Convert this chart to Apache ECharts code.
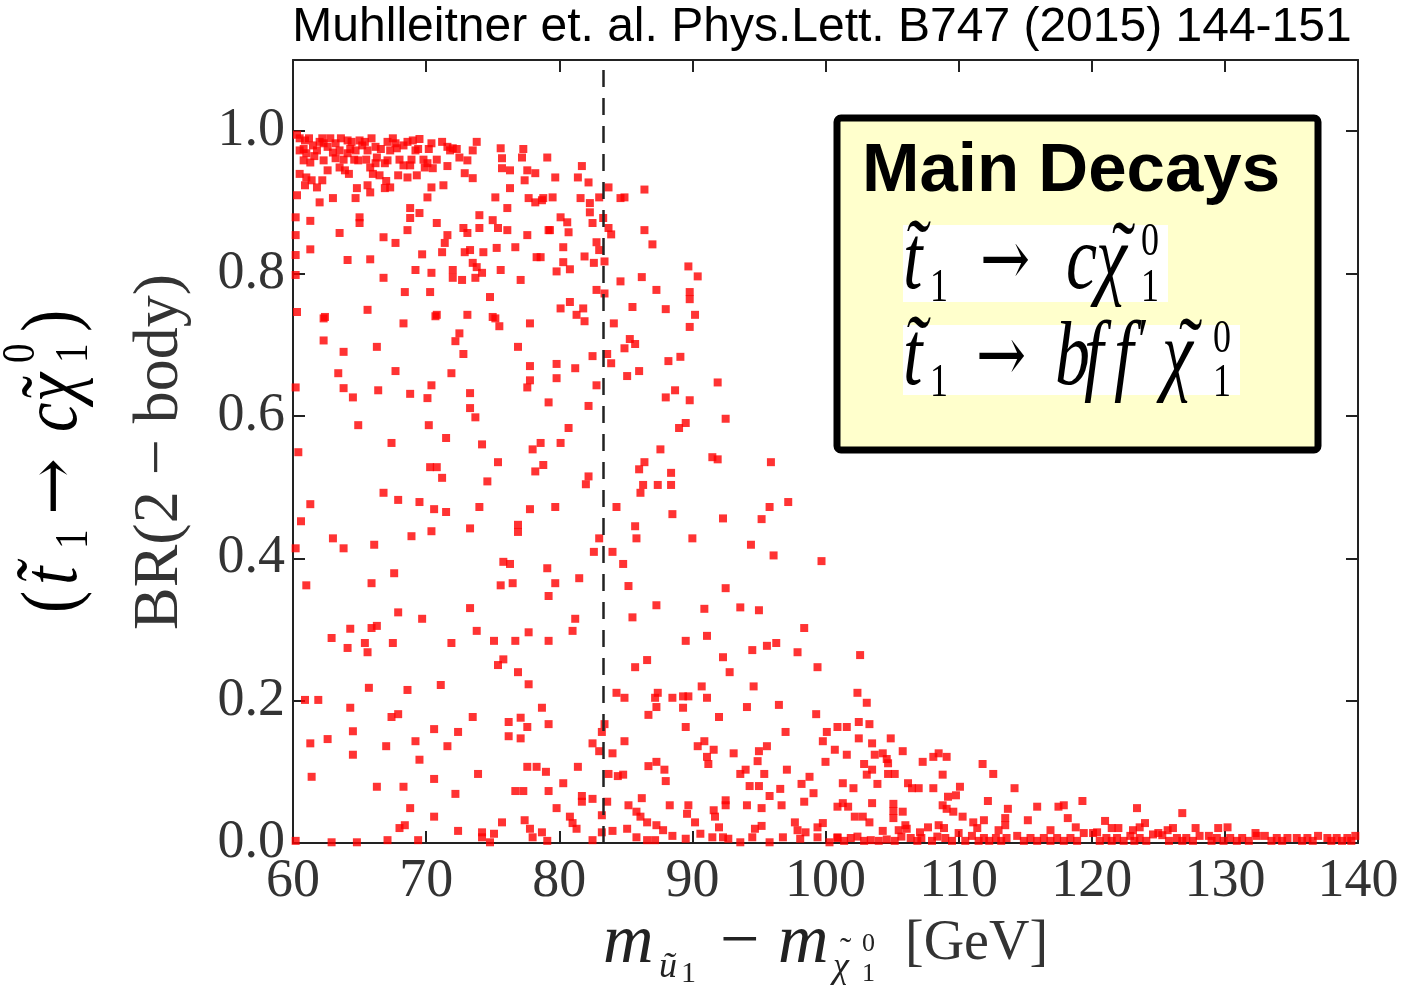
<!DOCTYPE html>
<html>
<head>
<meta charset="utf-8">
<title>BR(2-body) vs mass splitting</title>
<script src="https://cdn.jsdelivr.net/npm/echarts@6/dist/echarts.min.js"></script>
<style>
html, body { margin: 0; padding: 0; background: #fff; }
#main { width: 1407px; height: 987px; }
</style>
</head>
<body>
<div id="main"></div>
<script>
// x: m(t1) - m(chi1) [GeV], y: BR(2-body)
const xMin = 60, xMax = 140, xStep = 10
const yMin = 0, yMax = 1.1, yStep = 0.2
const cutLine = 83.3 // dashed vertical line

// dense band near BR = 1
const topBand = [
  [60.5,0.99],[60.9,0.987],[61.5,0.98],[62.2,0.99],[62.3,0.983],[63.2,0.983],[64.1,0.987],[64.4,0.985],[65.0,0.987],[65.4,0.985],
  [66.2,0.978],[67.1,0.985],[67.7,0.983],[68.6,0.985],[69.0,0.987],[69.5,0.989],[70.4,0.983],[71.6,0.978],[72.0,0.976],[73.8,0.985],
  [75.6,0.976],[77.3,0.975],[79.1,0.963],
  [60.5,0.973],[61.0,0.969],[61.8,0.973],[62.6,0.978],[63.5,0.973],[64.1,0.969],[64.7,0.973],[65.6,0.973],[66.3,0.963],[67.3,0.973],
  [67.8,0.976],[69.2,0.973],[71.8,0.973],[72.5,0.963],[73.1,0.959],[73.5,0.973],[75.7,0.962],[77.2,0.963],
  [60.8,0.959],[61.3,0.956],[62.3,0.959],[63.2,0.962],[63.5,0.949],[63.9,0.945],[64.9,0.959],[65.8,0.949],[66.2,0.955],[66.5,0.938],
  [67.1,0.959],[67.9,0.938],[68.3,0.952],[68.8,0.952],[68.6,0.935],[69.3,0.938],[69.9,0.949],[70.1,0.955],[70.5,0.948],[71.6,0.951],
  [72.9,0.941],[73.5,0.934],[75.7,0.948],[76.3,0.945],[77.6,0.945],[78.2,0.941],[77.4,0.931],
  [60.9,0.924],[61.4,0.931],[61.8,0.921],[62.2,0.931],[60.3,0.91],[62.0,0.9],[63.0,0.906],[64.8,0.92],[64.7,0.906],[65.6,0.924],
  [65.8,0.914],[66.9,0.92],[67.3,0.921],[70.4,0.921],[71.3,0.924],[70.1,0.907],[76.3,0.92],[75.2,0.907],[77.7,0.906],[78.2,0.9],[78.8,0.906],
  [60.3,0.995],[60.8,0.975],[61.2,0.99],[61.6,0.965],[62.0,0.985],[62.8,0.99],[63.0,0.97],[63.6,0.99],[63.8,0.96],[64.3,0.975],
  [64.6,0.96],[65.2,0.98],[65.5,0.96],[65.9,0.99],[66.6,0.975],[66.9,0.955],[67.5,0.99],[68.0,0.96],[68.3,0.98],[68.9,0.96],
  [69.4,0.975],[69.8,0.96],[70.2,0.975],[70.8,0.96],[71.2,0.985],[72.3,0.975],[60.5,0.94],[61.0,0.935],[62.6,0.945],[64.2,0.94],
  [66.0,0.94],[67.0,0.93]
]

const upperLeft = [
  [60.2,0.879],[61.3,0.874],[65.0,0.879],[65.0,0.871],[68.8,0.892],[68.8,0.878],[69.5,0.885],[70.8,0.871],[74.0,0.882],[75.0,0.875],
  [76.1,0.892],[75.4,0.864],[76.1,0.861],[74.0,0.864],[72.8,0.864],[73.1,0.857],[60.2,0.854],[63.5,0.857],[66.8,0.851],[68.6,0.861],
  [71.6,0.854],[77.6,0.854],[79.2,0.861],[61.3,0.834],[60.2,0.826],[67.7,0.843],[71.4,0.843],[72.9,0.83],[73.3,0.833],[71.2,0.83],
  [74.3,0.83],[75.3,0.836],[76.7,0.837],[78.3,0.823],[64.1,0.819],[65.8,0.82],[69.7,0.827],[73.5,0.815],[73.8,0.809],[74.2,0.801],
  [60.2,0.798],[66.8,0.794],[69.2,0.805],[70.4,0.801],[72.0,0.805],[72.0,0.794],[72.7,0.791],[73.7,0.794],[75.6,0.805],[77.1,0.791],
  [68.4,0.774],[70.3,0.774],[74.8,0.767],[60.3,0.746],[62.4,0.739],[65.6,0.749],[70.8,0.742],[73.1,0.742],[75.0,0.739]
]

const upperMid = [
  [81.7,0.951],[79.7,0.935],[81.4,0.935],[82.2,0.928],[83.7,0.921],[86.4,0.918],[78.7,0.903],[79.5,0.907],[81.6,0.906],[82.3,0.899],
  [83.0,0.907],[84.6,0.906],[84.9,0.907],[80.1,0.879],[80.6,0.872],[82.3,0.886],[83.3,0.878],[82.5,0.871],[79.3,0.861],[80.7,0.858],
  [83.7,0.864],[83.9,0.855],[86.4,0.861],[87.0,0.841],[80.3,0.837],[82.8,0.844],[83.0,0.833],[78.6,0.823],[80.3,0.816],[81.9,0.824],
  [82.6,0.815],[83.4,0.817],[79.8,0.803],[80.8,0.806],[89.7,0.81],[90.4,0.796],[84.6,0.789],[86.2,0.795],[82.8,0.777],[83.4,0.772],
  [87.3,0.777],[89.8,0.774],[89.8,0.764],[80.8,0.76],[80.1,0.751],[81.8,0.751],[85.5,0.753],[88.0,0.75],[90.2,0.742],[81.3,0.742]
]

const midLeft = [
  [62.3,0.737],[68.3,0.73],[70.7,0.74],[75.2,0.737],[75.5,0.726],[77.8,0.73],[62.3,0.706],[63.8,0.69],[66.3,0.697],[72.5,0.716],
  [72.2,0.705],[72.8,0.687],[76.9,0.697],[63.4,0.66],[67.7,0.663],[71.9,0.66],[77.8,0.67],[77.8,0.65],[77.6,0.64],[60.2,0.64],
  [63.8,0.639],[64.5,0.626],[66.4,0.636],[68.8,0.631],[70.4,0.643],[70.1,0.625],[73.3,0.632],[73.3,0.611],[73.7,0.598],[79.2,0.619],
  [64.9,0.587],[70.2,0.587],[67.4,0.562],[71.5,0.569],[74.2,0.56],[60.4,0.549],[78.0,0.553],[78.6,0.562],[70.3,0.528],[70.8,0.528],
  [75.4,0.535],[71.2,0.513],[74.6,0.508],[78.2,0.522],[78.8,0.531],[66.8,0.492],[61.3,0.476],[67.9,0.482],[69.5,0.479],[70.6,0.469],
  [71.5,0.465],[74.0,0.472],[77.8,0.469],[60.6,0.452],[73.3,0.442],[76.9,0.447],[76.9,0.437],[63.0,0.428],[63.8,0.414],[66.1,0.419],
  [68.9,0.431],[70.4,0.438],[60.2,0.414],[75.8,0.395],[76.3,0.392],[67.6,0.379],[79.1,0.386]
]

const midRight = [
  [81.9,0.733],[84.1,0.73],[89.8,0.725],[85.3,0.708],[85.7,0.701],[84.9,0.695],[82.5,0.684],[83.6,0.687],[83.9,0.674],[88.2,0.677],
  [89.1,0.683],[79.8,0.673],[81.2,0.667],[85.1,0.656],[86.0,0.663],[79.8,0.653],[82.8,0.643],[91.9,0.647],[88.7,0.636],[88.0,0.626],
  [89.8,0.622],[82.2,0.614],[92.5,0.596],[89.5,0.59],[89.0,0.583],[80.7,0.583],[80.1,0.562],[87.6,0.553],[91.5,0.542],[91.9,0.539],
  [95.9,0.535],[86.4,0.535],[86.0,0.525],[88.4,0.52],[82.2,0.515],[82.0,0.504],[86.3,0.503],[87.4,0.503],[88.4,0.503],[86.1,0.492],
  [79.7,0.472],[84.3,0.472],[97.2,0.479],[95.8,0.472],[95.2,0.455],[88.5,0.462],[92.3,0.456],[85.7,0.445],[83.0,0.428],[85.8,0.428],
  [90.0,0.428],[82.6,0.409],[84.0,0.409],[94.4,0.419],[96.1,0.404],[84.8,0.392],[99.7,0.396],[81.5,0.372]
]

const lowLeft = [
  [61.0,0.362],[65.9,0.365],[75.6,0.362],[76.5,0.365],[79.2,0.347],[67.9,0.324],[73.3,0.33],[69.7,0.315],[73.8,0.298],[77.7,0.296],
  [64.3,0.301],[65.9,0.302],[66.3,0.305],[62.9,0.288],[65.4,0.281],[67.5,0.281],[64.1,0.274],[65.6,0.268],[71.9,0.281],[75.1,0.284],
  [76.7,0.284],[79.2,0.284],[75.8,0.258],[75.4,0.25],[76.9,0.24],[77.7,0.223],[65.7,0.218],[68.6,0.215],[71.1,0.222],[60.9,0.201],
  [61.9,0.201],[64.3,0.19],[67.4,0.177],[67.9,0.181],[73.5,0.177],[78.7,0.19],[64.5,0.157],[70.6,0.16],[72.4,0.156],[76.2,0.17],
  [77.1,0.176],[77.6,0.163],[76.2,0.15],[77.1,0.147],[79.2,0.167],[61.3,0.14],[62.6,0.146],[67.0,0.136],[69.2,0.143],[71.6,0.136],
  [64.5,0.124],[69.5,0.117],[61.4,0.093],[73.9,0.097],[70.6,0.09],[77.6,0.107],[78.3,0.107],[79.0,0.1],[66.3,0.079],[68.3,0.079],
  [72.2,0.069],[76.7,0.073],[77.3,0.073],[79.2,0.073],[68.8,0.049],[70.6,0.037],[68.0,0.021],[68.4,0.025],[72.4,0.017],[74.2,0.015],
  [74.2,0.008],[75.1,0.013],[75.7,0.029],[77.4,0.032],[77.8,0.02],[78.7,0.015],[78.0,0.008],[60.2,0.003],[62.9,0.001],[64.8,0.001],
  [67.1,0.004],[69.4,0.004],[74.8,0.001],[79.1,0.003]
]

const lowMid = [
  [79.7,0.365],[85.2,0.361],[92.5,0.358],[87.3,0.334],[85.5,0.317],[90.9,0.329],[93.6,0.331],[95.0,0.327],[98.4,0.302],[81.2,0.315],
  [81.0,0.298],[89.5,0.284],[91.1,0.291],[94.5,0.271],[95.6,0.277],[96.3,0.281],[97.9,0.268],[92.3,0.261],[86.6,0.257],[85.7,0.247],
  [92.8,0.24],[99.4,0.247],[90.7,0.22],[94.6,0.22],[84.3,0.211],[84.9,0.204],[87.4,0.211],[87.2,0.204],[88.5,0.204],[89.3,0.206],
  [89.7,0.206],[91.1,0.204],[87.3,0.191],[89.3,0.19],[94.1,0.191],[96.5,0.194],[99.3,0.181],[86.7,0.18],[92.0,0.177],[83.4,0.167],
  [89.5,0.163],[97.0,0.156],[100.1,0.156],[100.9,0.163],[83.2,0.156],[82.5,0.14],[83.0,0.129],[84.0,0.126],[84.9,0.143],[90.4,0.136],
  [90.9,0.143],[91.6,0.131],[93.1,0.126],[95.0,0.129],[95.6,0.136],[99.8,0.143],[100.7,0.131],[91.1,0.121],[91.2,0.111],[94.9,0.115],
  [100.0,0.114],[86.7,0.108],[87.3,0.114],[87.9,0.103],[88.0,0.087],[94.0,0.103],[93.6,0.097],[95.4,0.097],[97.1,0.103],[98.8,0.093],
  [83.7,0.097],[84.4,0.094],[84.8,0.096],[81.4,0.107],[80.3,0.084],[94.3,0.08],[95.0,0.08],[96.6,0.076],[98.2,0.083],[95.8,0.066],
  [99.1,0.07],[81.7,0.066],[81.7,0.058],[82.5,0.062],[86.2,0.063],[83.6,0.058],[79.8,0.049],[85.2,0.053],[88.3,0.053],[89.7,0.053],
  [92.5,0.06],[92.5,0.053],[94.1,0.053],[95.2,0.049],[96.7,0.053],[98.4,0.058],[100.9,0.051],[85.8,0.044],[86.1,0.037],[86.6,0.029],
  [87.3,0.025],[87.8,0.018],[88.5,0.01],[80.8,0.037],[81.0,0.028],[81.3,0.02],[83.2,0.039],[85.1,0.02],[84.0,0.017],[83.2,0.015],
  [82.5,0.004],[85.8,0.008],[86.6,0.004],[87.2,0.004],[89.5,0.006],[89.6,0.041],[90.2,0.029],[90.6,0.013],[91.6,0.046],[91.7,0.037],
  [92.0,0.022],[91.5,0.008],[92.3,0.008],[92.7,0.006],[93.6,0.001],[94.5,0.008],[94.7,0.02],[95.2,0.024],[95.8,0.001],[96.8,0.008],
  [97.7,0.029],[97.9,0.018],[98.5,0.015],[98.1,0.006],[99.4,0.022],[99.8,0.028],[99.4,0.008],[100.3,0.001],[100.9,0.008]
]

const tail = [
  [102.6,0.264],[102.4,0.211],[103.1,0.197],[101.6,0.163],[102.5,0.17],[103.3,0.167],[102.5,0.147],[103.5,0.14],[104.9,0.147],[101.6,0.124],
  [103.7,0.124],[104.3,0.126],[104.6,0.118],[105.8,0.129],[102.9,0.111],[104.7,0.112],[107.3,0.114],[108.1,0.121],[108.5,0.126],[109.1,0.121],
  [111.8,0.111],[103.5,0.103],[103.1,0.096],[104.7,0.097],[105.2,0.097],[108.8,0.096],[112.6,0.097],[101.3,0.084],[102.1,0.077],[103.9,0.083],
  [106.2,0.084],[106.5,0.077],[107.0,0.077],[108.1,0.077],[110.1,0.079],[114.2,0.077],[109.2,0.065],[109.8,0.067],[101.3,0.056],[101.7,0.051],
  [103.5,0.056],[105.1,0.055],[105.8,0.044],[105.1,0.045],[108.8,0.053],[109.1,0.048],[109.6,0.044],[112.2,0.059],[113.7,0.048],[115.9,0.051],
  [117.5,0.051],[117.9,0.053],[119.3,0.059],[102.2,0.037],[102.8,0.037],[103.3,0.029],[105.1,0.035],[106.0,0.025],[110.3,0.037],[111.1,0.029],
  [111.9,0.032],[113.5,0.035],[113.5,0.025],[115.2,0.032],[118.2,0.035],[108.5,0.025],[107.7,0.022],[104.3,0.017],[105.5,0.018],[106.1,0.02],
  [107.1,0.015],[108.9,0.021],[111.4,0.021],[113.0,0.018],[116.9,0.018],[118.8,0.022],
  [123.4,0.049],[126.8,0.042],[121.0,0.031],[121.5,0.021],[122.0,0.021],[123.1,0.018],[123.6,0.022],[124.0,0.028],[120.4,0.015],[126.1,0.021],
  [125.7,0.018],[127.8,0.021],[129.5,0.021],[130.2,0.022],[125.0,0.014],[132.3,0.014]
]

// points sitting on BR ~ 0
const floor = [
  [100.9,0.007],[101.9,0.007],[102.4,0.009],[103.4,0.004],[104.6,0.005],[105.7,0.009],[106.4,0.007],[107.2,0.007],[108.4,0.009],[109.0,0.007],
  [110.0,0.014],[111.0,0.01],[111.9,0.007],[112.8,0.007],[113.6,0.007],[114.4,0.01],[115.4,0.007],[116.4,0.007],[117.4,0.007],[118.4,0.007],
  [119.4,0.014],[120.1,0.014],[121.1,0.007],[121.9,0.007],[122.9,0.01],[123.6,0.007],[124.6,0.012],[125.3,0.011],[126.4,0.007],[127.1,0.007],
  [128.1,0.01],[128.8,0.01],[129.4,0.007],[130.4,0.007],[131.3,0.007],[132.4,0.01],[133.0,0.01],[133.9,0.007],[134.7,0.007],[135.4,0.007],
  [136.2,0.007],[137.0,0.01],[137.7,0.007],[138.4,0.007],[139.2,0.007],[139.8,0.01],
  [101.4,0.003],[102.9,0.003],[104.0,0.003],[105.2,0.003],[106.9,0.003],[108.0,0.003],[109.5,0.003],[110.5,0.003],[111.5,0.003],[112.3,0.003],
  [113.2,0.003],[114.9,0.003],[115.9,0.003],[116.9,0.003],[117.9,0.003],[118.9,0.003],[120.6,0.003],[121.5,0.003],[122.4,0.003],[123.2,0.003],
  [124.1,0.003],[125.8,0.003],[126.8,0.003],[127.6,0.003],[129.0,0.003],[129.9,0.003],[130.9,0.003],[131.8,0.003],[133.5,0.003],[134.3,0.003],
  [135.8,0.003],[136.6,0.003],[138.0,0.003],[138.8,0.003],[139.5,0.003]
]

const allPoints = [].concat(topBand, upperLeft, upperMid, midLeft, midRight, lowLeft, lowMid, tail, floor)

const serif = 'Liberation Serif'
const sans = 'Liberation Sans'
const frame = { color: '#222', width: 2 }

function frameAxis (pos, min, max, step, showLabel, isY) {
  return {
    type: 'value',
    position: pos,
    min: min,
    max: max,
    interval: step,
    axisLine: { show: true, onZero: false, lineStyle: frame },
    axisTick: { show: true, inside: true, length: 12, lineStyle: frame },
    splitLine: { show: false },
    axisLabel: {
      show: showLabel,
      fontFamily: serif,
      fontSize: 54,
      color: '#333',
      margin: isY ? 8 : 12,
      showMaxLabel: !isY,
      formatter: isY ? v => v.toFixed(1) : v => String(v)
    }
  }
}

// one piece of a formula: left aligned, vertically centred at y
function piece (x, y, text, size, italic, extra) {
  let el = {
    type: 'text',
    x: x,
    y: y,
    style: {
      text: text,
      font: (italic ? 'italic ' : '') + size + 'px ' + serif,
      fill: '#000',
      align: 'left',
      verticalAlign: 'middle'
    }
  }
  return Object.assign(el, extra || {})
}

function arrow (x, y, size, extra) {
  let el = piece(x, y, '→', size, false, extra)
  el.style.font = size + 'px DejaVu Serif'
  return el
}

const stretch = { scaleY: 1.3 }
const squeeze = { scaleX: 0.85 }
const axisInk = '#222'

function ink (el, color) {
  el.style.fill = color
  return el
}

let myChart = echarts.init(document.getElementById('main'))
myChart.setOption({
  animation: false,
  grid: { left: 293, right: 49, top: 60, bottom: 144 },
  xAxis: [
    frameAxis('bottom', xMin, xMax, xStep, true, false),
    frameAxis('top', xMin, xMax, xStep, false, false)
  ],
  yAxis: [
    frameAxis('left', yMin, yMax, yStep, true, true),
    frameAxis('right', yMin, yMax, yStep, false, true)
  ],
  series: [
    {
      type: 'scatter',
      xAxisIndex: 0,
      yAxisIndex: 0,
      symbol: 'rect',
      symbolSize: 8,
      itemStyle: { color: '#ff0000' },
      data: allPoints,
      markLine: {
        silent: true,
        symbol: 'none',
        label: { show: false },
        lineStyle: { type: [17, 11], color: '#222', width: 2.5 },
        data: [{ xAxis: cutLine }]
      }
    }
  ],
  graphic: {
    elements: [
      {
        type: 'text', x: 822, y: 28,
        style: { text: 'Muhlleitner et. al. Phys.Lett. B747 (2015) 144-151', font: '48px ' + sans, fill: '#000', align: 'center', verticalAlign: 'middle' }
      },
      // x axis title
      ink(piece(603, 944, 'm', 70, true), axisInk),
      ink(piece(659, 968, 'ũ', 36, true), axisInk),
      ink(piece(681, 974, '1', 30, false), axisInk),
      ink(piece(720, 944, '−', 70, false), axisInk),
      ink(piece(778, 944, 'm', 70, true), axisInk),
      ink(piece(833, 968, 'χ', 36, true), axisInk),
      ink(piece(840, 952, '˜', 34, false), axisInk),
      ink(piece(862, 944, '0', 26, false), axisInk),
      ink(piece(862, 974, '1', 26, false), axisInk),
      ink(piece(905, 944, '[GeV]', 56, false), '#333'),
      // inner y title
      {
        type: 'text', x: 160, y: 452, rotation: Math.PI / 2,
        style: { text: 'BR(2 − body)', font: '64px ' + serif, fill: '#333', align: 'center', verticalAlign: 'middle' }
      },
      // outer y title, drawn along the rotated group
      {
        type: 'group', x: 55, y: 460, rotation: Math.PI / 2,
        children: [
          piece(-153, 0, '(', 78, false, squeeze),
          piece(-125, 0, 't̃', 78, true, squeeze),
          piece(-89, 20, '1', 46, false, squeeze),
          arrow(-55, 2, 68),
          piece(28, 0, 'c', 78, true, squeeze),
          piece(58, 0, 'χ', 78, true, squeeze),
          piece(62, 0, '˜', 78, false, squeeze),
          piece(97, -33, '0', 46, false, squeeze),
          piece(97, 20, '1', 46, false, squeeze),
          piece(128, 0, ')', 78, false, squeeze)
        ]
      },
      // legend box
      {
        type: 'rect',
        shape: { x: 837, y: 118, width: 481, height: 332, r: 4 },
        style: { fill: '#ffffcc', stroke: '#000', lineWidth: 7 }
      },
      {
        type: 'text', x: 862, y: 172,
        style: { text: 'Main Decays', font: 'bold 69px ' + sans, fill: '#000', align: 'left', verticalAlign: 'middle' }
      },
      { type: 'rect', shape: { x: 903, y: 225, width: 265, height: 77 }, style: { fill: '#fff' } },
      { type: 'rect', shape: { x: 903, y: 325, width: 337, height: 70 }, style: { fill: '#fff' } },
      // t1 -> c chi
      piece(903, 264, 't̃', 70, true, stretch),
      piece(930, 289, '1', 36, false, stretch),
      arrow(980, 265, 60, stretch),
      piece(1066, 264, 'c', 70, true, stretch),
      piece(1096, 264, 'χ', 70, true, stretch),
      piece(1112, 260, '˜', 70, false, stretch),
      piece(1141, 243, '0', 36, false, stretch),
      piece(1141, 289, '1', 36, false, stretch),
      // t1 -> b f f' chi
      piece(903, 360, 't̃', 70, true, stretch),
      piece(930, 384, '1', 36, false, stretch),
      arrow(976, 361, 60, stretch),
      piece(1055, 360, 'b', 70, true, stretch),
      piece(1084, 360, 'f', 70, true, stretch),
      piece(1114, 360, 'f', 70, true, stretch),
      piece(1138, 346, '′', 48, false, stretch),
      piece(1162, 360, 'χ', 70, true, stretch),
      piece(1179, 356, '˜', 70, false, stretch),
      piece(1213, 340, '0', 36, false, stretch),
      piece(1213, 384, '1', 36, false, stretch)
    ]
  }
})
window.addEventListener('resize', function () {
  myChart.resize()
})
</script>
</body>
</html>
